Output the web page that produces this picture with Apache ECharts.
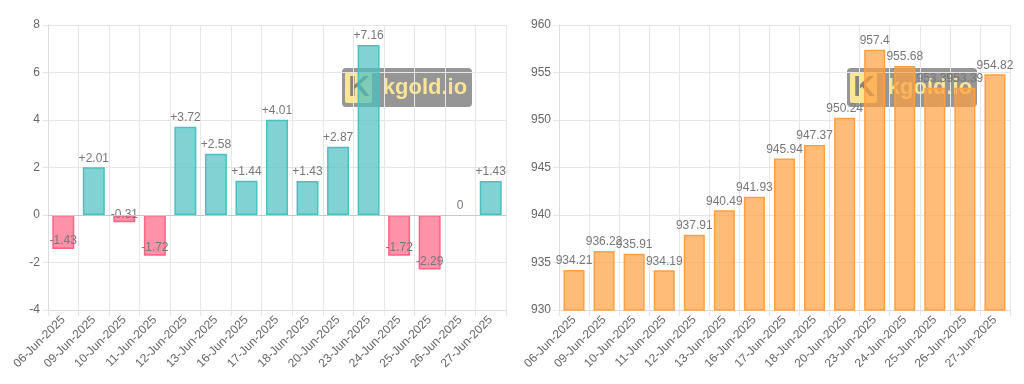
<!DOCTYPE html>
<html>
<head>
<meta charset="utf-8">
<script src="https://cdn.jsdelivr.net/npm/echarts@6/dist/echarts.min.js"></script>
<style>
html,body{margin:0;padding:0;background:#fff;}
#c{width:1024px;height:384px;}
</style>
</head>
<body>
<div id="c"></div>
<script>
const dates = ['06-Jun-2025','09-Jun-2025','10-Jun-2025','11-Jun-2025','12-Jun-2025','13-Jun-2025','16-Jun-2025','17-Jun-2025','18-Jun-2025','20-Jun-2025','23-Jun-2025','24-Jun-2025','25-Jun-2025','26-Jun-2025','27-Jun-2025'];
const changes = [-1.43, 2.01, -0.31, -1.72, 3.72, 2.58, 1.44, 4.01, 1.43, 2.87, 7.16, -1.72, -2.29, 0, 1.43];
const prices = [934.21, 936.22, 935.91, 934.19, 937.91, 940.49, 941.93, 945.94, 947.37, 950.24, 957.4, 955.68, 953.39, 953.39, 954.82];
const leftTicks = {min: -4, max: 8, interval: 2};
const rightTicks = {min: 930, max: 960, interval: 5};

const FONT = 'Liberation Sans, Arial, Helvetica, sans-serif';
const GRID_C = '#e6e6e6';
const TXT = '#666';
const VTXT = '#777';

function xAxis(gi) {
  return {
    type: 'category', gridIndex: gi, data: dates,
    axisLine: {show: true, onZero: false, lineStyle: {color: '#dcdcdc', width: 1}},
    axisTick: {show: true, length: 6, lineStyle: {color: GRID_C}},
    splitLine: {show: true, lineStyle: {color: GRID_C, width: 1}},
    axisLabel: {rotate: 45, color: TXT, fontSize: 12, fontFamily: FONT, margin: 8, interval: 0}
  };
}
function yAxis(gi, t) {
  return {
    type: 'value', gridIndex: gi, min: t.min, max: t.max, interval: t.interval,
    axisLine: {show: true, lineStyle: {color: '#dcdcdc'}},
    axisTick: {show: true, length: 6, lineStyle: {color: GRID_C}},
    splitLine: {show: true, lineStyle: {color: GRID_C, width: 1}},
    axisLabel: {color: TXT, fontSize: 12, fontFamily: FONT, margin: 8}
  };
}

const changeData = changes.map(v => {
  const neg = v < 0;
  return {
    value: v,
    itemStyle: neg
      ? {color: 'rgba(255,99,132,0.7)', borderColor: 'rgb(255,99,132)', borderWidth: 1.5}
      : {color: 'rgba(75,192,192,0.7)', borderColor: 'rgb(75,192,192)', borderWidth: v === 0 ? 0 : 1.5},
    label: neg ? {position: 'insideBottom', distance: 2} : {position: 'top', distance: 3}
  };
});

function watermark(x, y) {
  return [
    {type: 'rect', z: -5, shape: {x: x, y: y, width: 130, height: 39, r: 4},
     style: {fill: 'rgba(105,105,105,0.7)'}},
    {type: 'rect', z: -5, shape: {x: x + 3, y: y + 4, width: 27, height: 31, r: 2},
     style: {fill: 'rgba(255,232,150,0.95)'}},
    {type: 'text', z: -4, x: x + 17, y: y + 20,
     style: {text: 'K', fill: 'rgba(120,120,120,0.9)', font: 'bold 30px ' + FONT, textAlign: 'center', textVerticalAlign: 'middle'}},
    {type: 'text', z: -4, x: x + 83, y: y + 20,
     style: {text: 'kgold.io', fill: 'rgba(255,232,150,0.95)', font: 'bold 22px ' + FONT, textAlign: 'center', textVerticalAlign: 'middle'}}
  ];
}

const chart = echarts.init(document.getElementById('c'), null, {renderer: 'canvas'});
chart.setOption({
  animation: false,
  backgroundColor: '#fff',
  grid: [
    {left: 48, right: 518, top: 25, bottom: 74},
    {left: 559, right: 14, top: 25, bottom: 74}
  ],
  xAxis: [xAxis(0), xAxis(1)],
  yAxis: [yAxis(0, leftTicks), yAxis(1, rightTicks)],
  graphic: [].concat(watermark(342, 68), watermark(847, 68)),
  series: [
    {
      type: 'bar', xAxisIndex: 0, yAxisIndex: 0, data: changeData, barWidth: '72%',
      label: {show: true, color: VTXT, fontSize: 12, fontFamily: FONT,
        formatter: p => (p.value > 0 ? '+' + p.value : String(p.value))},
      markLine: {silent: true, symbol: 'none', label: {show: false},
        lineStyle: {color: '#c8c8c8', type: 'solid', width: 1}, data: [{yAxis: 0}]}
    },
    {
      type: 'bar', xAxisIndex: 1, yAxisIndex: 1, data: prices, barWidth: '70%',
      itemStyle: {color: 'rgba(255,159,64,0.7)', borderColor: 'rgb(255,159,64)', borderWidth: 1.5},
      label: {show: true, position: 'top', distance: 3, color: VTXT, fontSize: 12, fontFamily: FONT,
        formatter: p => String(p.value)}
    }
  ]
});
</script>
</body>
</html>
